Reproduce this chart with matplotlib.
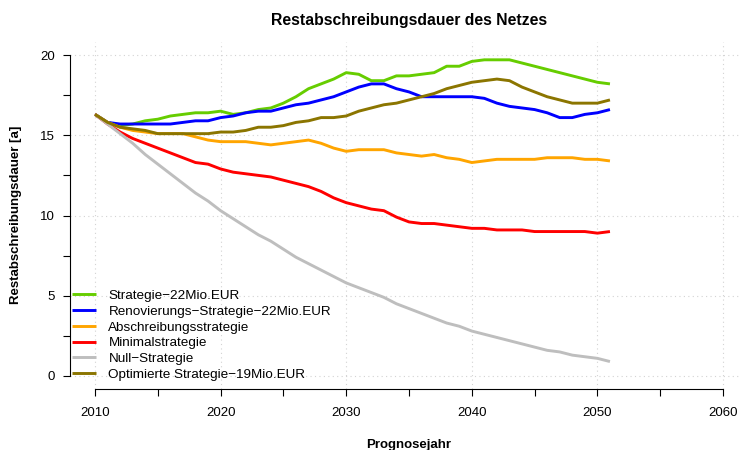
import numpy as np
import matplotlib
matplotlib.use("Agg")
import matplotlib.pyplot as plt
from matplotlib.ticker import MultipleLocator

plt.rcParams['font.family'] = ['Liberation Sans', 'DejaVu Sans']

# Prognosejahre 2010..2051
years = np.arange(2010, 2052)

strategie_22 = [16.3, 15.8, 15.6, 15.7, 15.9, 16.0, 16.2, 16.3, 16.4, 16.4,
                16.5, 16.3, 16.4, 16.6, 16.7, 17.0, 17.4, 17.9, 18.2, 18.5,
                18.9, 18.8, 18.4, 18.4, 18.7, 18.7, 18.8, 18.9, 19.3, 19.3,
                19.6, 19.7, 19.7, 19.7, 19.5, 19.3, 19.1, 18.9, 18.7, 18.5,
                18.3, 18.2]
renovierung_22 = [16.3, 15.8, 15.7, 15.7, 15.7, 15.7, 15.7, 15.8, 15.9, 15.9,
                  16.1, 16.2, 16.4, 16.5, 16.5, 16.7, 16.9, 17.0, 17.2, 17.4,
                  17.7, 18.0, 18.2, 18.2, 17.9, 17.7, 17.4, 17.4, 17.4, 17.4,
                  17.4, 17.3, 17.0, 16.8, 16.7, 16.6, 16.4, 16.1, 16.1, 16.3,
                  16.4, 16.6]
abschreibung = [16.3, 15.8, 15.5, 15.3, 15.2, 15.1, 15.1, 15.1, 14.9, 14.7,
                14.6, 14.6, 14.6, 14.5, 14.4, 14.5, 14.6, 14.7, 14.5, 14.2,
                14.0, 14.1, 14.1, 14.1, 13.9, 13.8, 13.7, 13.8, 13.6, 13.5,
                13.3, 13.4, 13.5, 13.5, 13.5, 13.5, 13.6, 13.6, 13.6, 13.5,
                13.5, 13.4]
minimal = [16.3, 15.7, 15.2, 14.8, 14.5, 14.2, 13.9, 13.6, 13.3, 13.2,
           12.9, 12.7, 12.6, 12.5, 12.4, 12.2, 12.0, 11.8, 11.5, 11.1,
           10.8, 10.6, 10.4, 10.3, 9.9, 9.6, 9.5, 9.5, 9.4, 9.3,
           9.2, 9.2, 9.1, 9.1, 9.1, 9.0, 9.0, 9.0, 9.0, 9.0,
           8.9, 9.0]
null_strategie = [16.3, 15.7, 15.1, 14.5, 13.8, 13.2, 12.6, 12.0, 11.4, 10.9,
                  10.3, 9.8, 9.3, 8.8, 8.4, 7.9, 7.4, 7.0, 6.6, 6.2,
                  5.8, 5.5, 5.2, 4.9, 4.5, 4.2, 3.9, 3.6, 3.3, 3.1,
                  2.8, 2.6, 2.4, 2.2, 2.0, 1.8, 1.6, 1.5, 1.3, 1.2,
                  1.1, 0.9]
optimiert_19 = [16.3, 15.8, 15.5, 15.4, 15.3, 15.1, 15.1, 15.1, 15.1, 15.1,
                15.2, 15.2, 15.3, 15.5, 15.5, 15.6, 15.8, 15.9, 16.1, 16.1,
                16.2, 16.5, 16.7, 16.9, 17.0, 17.2, 17.4, 17.6, 17.9, 18.1,
                18.3, 18.4, 18.5, 18.4, 18.0, 17.7, 17.4, 17.2, 17.0, 17.0,
                17.0, 17.2]

labels = ["Strategie\u221222Mio.EUR",
          "Renovierungs\u2212Strategie\u221222Mio.EUR",
          "Abschreibungsstrategie",
          "Minimalstrategie",
          "Null\u2212Strategie",
          "Optimierte Strategie\u221219Mio.EUR"]
colors = ["#66CD00", "#0000FF", "#FFA500", "#FF0000", "#BEBEBE", "#8B7500"]
series = [strategie_22, renovierung_22, abschreibung, minimal, null_strategie, optimiert_19]

W, H = 740, 450
fig = plt.figure(figsize=(W / 100, H / 100), dpi=100)
# plot region in pixels: x 70..740, y 42..389
ax = fig.add_axes([70 / W, (H - 389) / H, (W - 70) / W, (389 - 42) / H])

px_year = 12.56
px_unit = 16.05
ax.set_xlim(2010 - 25 / px_year, 2010 - 25 / px_year + (W - 70) / px_year)
ax.set_ylim(-13 / px_unit, 20 + 13 / px_unit)

for vals, lab, col in zip(series, labels, colors):
    ax.plot(years, vals, color=col, lw=2.1, label=lab, solid_capstyle='butt')

for s in ['top', 'right']:
    ax.spines[s].set_visible(False)
ax.spines['left'].set_bounds(0, 20)
ax.spines['bottom'].set_bounds(2010, 2060)
for s in ['left', 'bottom']:
    ax.spines[s].set_linewidth(0.8)

ax.xaxis.set_major_locator(MultipleLocator(10))
ax.xaxis.set_minor_locator(MultipleLocator(5))
ax.yaxis.set_major_locator(MultipleLocator(5))
ax.yaxis.set_minor_locator(MultipleLocator(2.5))
ax.tick_params(which='both', direction='out', length=5, width=0.8, labelsize=9.5)
ax.tick_params(axis='x', which='both', pad=8)
ax.tick_params(axis='y', which='both', pad=6)
ax.grid(True, which='major', color='#D3D3D3', linestyle=(0, (1, 3)), lw=0.8)

leg = ax.legend(loc='lower left', bbox_to_anchor=(72 / W, (H - 381) / H),
                bbox_transform=fig.transFigure, frameon=False, fontsize=9.7,
                handlelength=1.8, handletextpad=0.9, borderpad=0,
                borderaxespad=0, labelspacing=0.25)

fig.text(409 / W, 1 - 21 / H, "Restabschreibungsdauer des Netzes",
         ha='center', va='center', fontsize=11.3, fontweight='bold')
fig.text(16 / W, 1 - 215 / H, "Restabschreibungsdauer [a]", rotation=90,
         ha='center', va='center', fontsize=9.5, fontweight='bold')
fig.text(409 / W, 1 - 445 / H, "Prognosejahr",
         ha='center', va='center', fontsize=9.5, fontweight='bold')

fig.savefig("out.png", dpi=100)
